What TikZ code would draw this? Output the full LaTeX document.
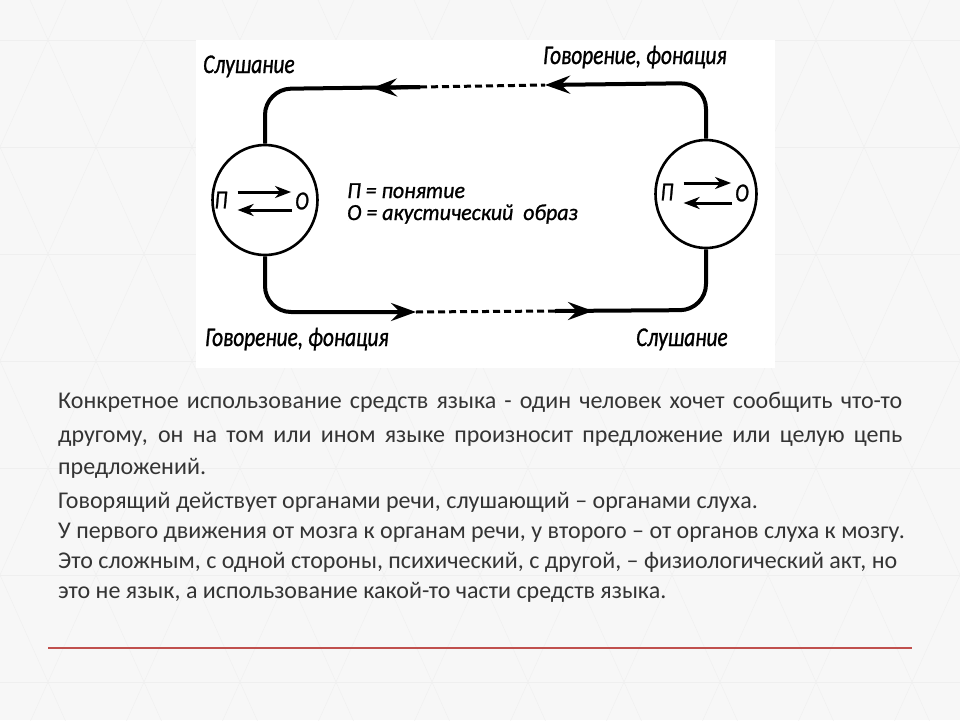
\documentclass[tikz,border=0pt]{standalone}
\usepackage{fontspec}
\setmainfont{Carlito}
\newfontfamily\scanfont[FakeStretch=0.79,FakeBold=1]{Carlito}
\newfontfamily\legendfont[FakeStretch=0.95,FakeBold=1]{Carlito}
\usetikzlibrary{arrows.meta,shapes.geometric}
\definecolor{slidebg}{RGB}{247,247,247}
\definecolor{slidegrid}{RGB}{239,239,239}
\definecolor{bodytext}{RGB}{52,52,52}
\definecolor{rulered}{RGB}{192,80,77}

\begin{document}
\begin{tikzpicture}[x=1pt,y=-1pt,
wire/.style={line width=4pt},
dashwire/.style={line width=3pt,dash pattern=on 7pt off 4pt},
bigtip/.style={-{Stealth[length=25pt,width=18pt,inset=9pt]}},
pairarrow/.style={line width=3pt,-{Stealth[length=16pt,width=12pt,inset=5pt]}},
brain/.style={draw,ellipse,line width=2.6pt,
minimum width=105pt,minimum height=110pt,inner sep=0pt},
letter/.style={font=\scanfont\itshape\fontsize{26}{26}\selectfont,inner sep=0pt},
scanlbl/.style={font=\scanfont\itshape\fontsize{27}{27}\selectfont,
inner sep=0pt,anchor=base west},
deflbl/.style={font=\legendfont\itshape\fontsize{23}{23}\selectfont,
inner sep=0pt,anchor=base west},
bodyline/.style={font=\fontsize{24}{24}\selectfont,text=bodytext,
inner sep=0pt,anchor=base west}]
\useasboundingbox (0,0) rectangle (960,720);
\fill[slidebg] (0,0) rectangle (960,720);
\begin{scope}
\clip (0,0) rectangle (960,720);
\foreach \k in {-4,...,12}{
\draw[slidegrid] (96*\k,-67) -- ++(384,856);
\draw[slidegrid] (96*\k+96,-67) -- ++(-384,856);
}
\foreach \j in {0,...,6}
\draw[slidegrid] (0,40+107*\j) -- (960,40+107*\j);
\end{scope}
\fill[white] (196,40) rectangle (775,368);

\node[brain] (p1) at (265,200) {};
\node[brain,minimum width=101pt,minimum height=108pt] (p2) at (706,194) {};
\node[letter] (p1P) at (221,200) {П};
\node[letter] (p1O) at (302,201) {О};
\node[letter] (p2P) at (667,192) {П};
\node[letter] (p2O) at (742,193) {О};
\draw[pairarrow,shorten <=10pt,shorten >=4pt] ([yshift=8pt]p1P.east) -- ([yshift=9pt]p1O.west);
\draw[pairarrow,shorten <=3pt,shorten >=10pt] ([yshift=-9pt]p1O.west) -- ([yshift=-10pt]p1P.east);
\draw[pairarrow,shorten <=10pt,shorten >=4pt] ([yshift=9pt]p2P.east) -- ([yshift=10pt]p2O.west);
\draw[pairarrow,shorten <=3pt,shorten >=10pt] ([yshift=-10pt]p2O.west) -- ([yshift=-11pt]p2P.east);

\node[deflbl] (defP) at (347,198) {П = понятие};
\node[deflbl] (defO) at (347,220) {О = акустический\ \ образ};
\node[scanlbl] (lblTL) at (203,73) {Слушание};
\node[scanlbl] (lblTR) at (543,64) {Говорение, фонация};
\node[scanlbl] (lblBL) at (205,346) {Говорение, фонация};
\node[scanlbl] (lblBR) at (636,346) {Слушание};

\coordinate (t1) at (420,87);
\coordinate (t2) at (545,85);
\coordinate (tA) at (372,88);
\coordinate (b1) at (416,312);
\coordinate (b2) at (555,311);
\coordinate (tB) at (593,311);
\draw[wire,rounded corners=26pt] (p1.north) -- (p1.north |- 0,89) -- (t1);
\draw[wire,bigtip] (t1) -- (tA);
\draw[dashwire] (t1) -- (t2);
\draw[wire,bigtip,rounded corners=26pt] (p2.north) -- (p2.north |- 0,83) -- (t2);
\draw[wire,bigtip,rounded corners=26pt] (p1.south) -- (p1.south |- 0,312) -- (b1);
\draw[dashwire] (b1) -- (b2);
\draw[wire,rounded corners=26pt] (b2) -- (p2.south |- 0,310) -- (p2.south);
\draw[wire,bigtip] (b2) -- (tB);

\node[bodyline] (txt1) at (58,408) {\makebox[844pt][s]{Конкретное использование средств языка - один человек хочет сообщить что-то}};
\node[bodyline] (txt2) at (58,442) {\makebox[844pt][s]{другому, он на том или ином языке произносит предложение или целую цепь}};
\node[bodyline] (txt3) at (58,474) {предложений.};
\node[bodyline] (txt4) at (58,508) {Говорящий действует органами речи, слушающий – органами слуха.};
\node[bodyline] (txt5) at (58,538) {У первого движения от мозга к органам речи, у второго – от органов слуха к мозгу.};
\node[bodyline] (txt6) at (58,568) {Это сложным, с одной стороны, психический, с другой, – физиологический акт, но};
\node[bodyline] (txt7) at (58,598) {это не язык, а использование какой-то части средств языка.};
\draw[rulered,line width=2pt] (48,648) -- (912,648);
\end{tikzpicture}
\end{document}
